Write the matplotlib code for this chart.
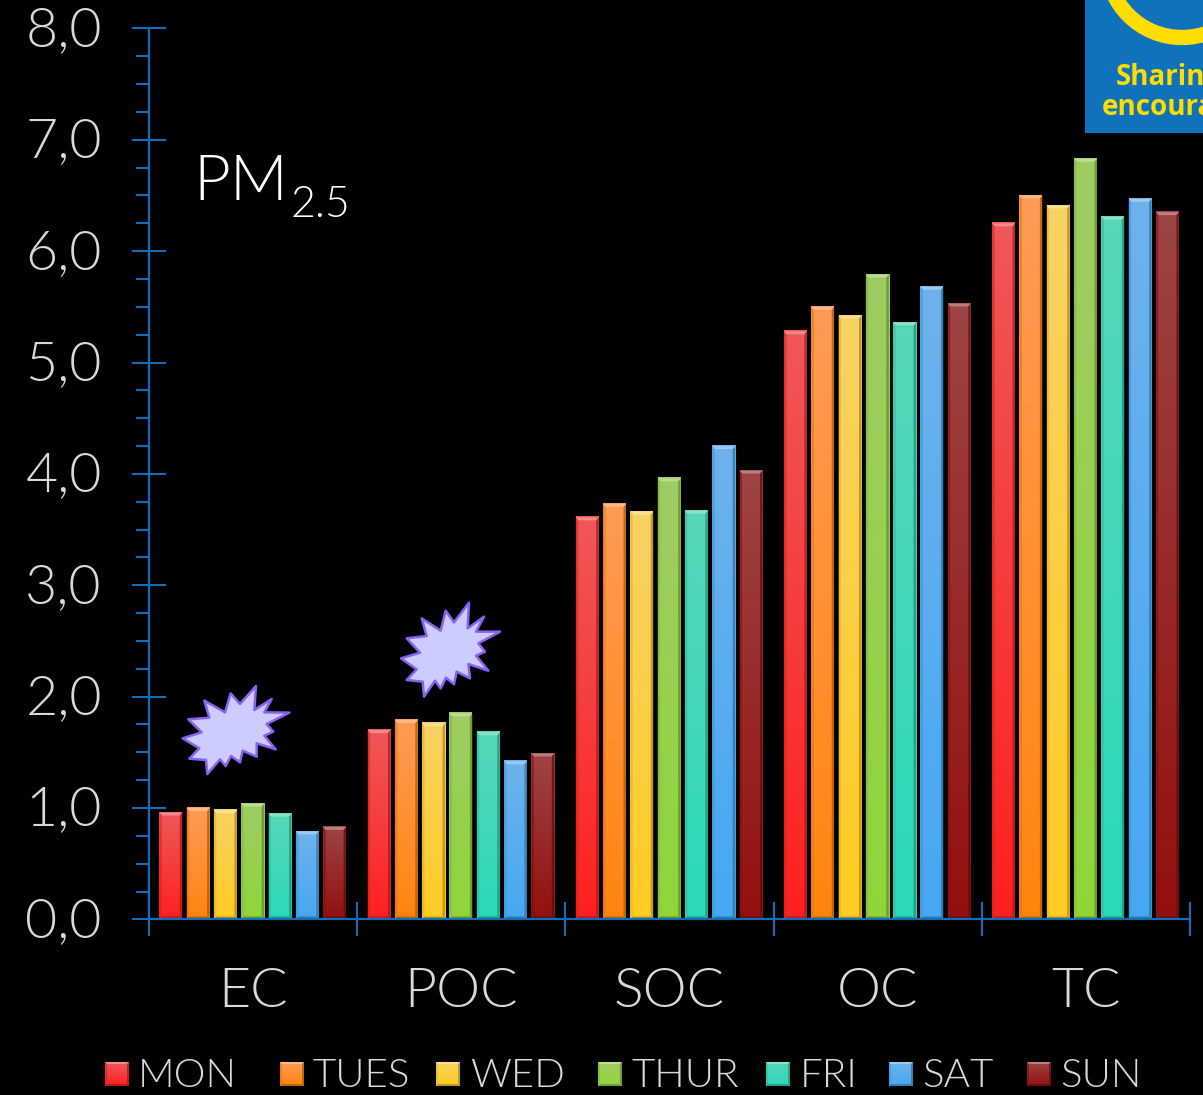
import numpy as np
import matplotlib.pyplot as plt
from matplotlib.colors import to_rgb
from matplotlib.patches import Polygon, Rectangle, Circle
from matplotlib.transforms import ScaledTranslation

categories = ['EC', 'POC', 'SOC', 'OC', 'TC']
days = ['MON', 'TUES', 'WED', 'THUR', 'FRI', 'SAT', 'SUN']
ec = [0.96, 1.00, 0.98, 1.04, 0.95, 0.79, 0.83]
poc = [1.70, 1.79, 1.76, 1.85, 1.68, 1.42, 1.49]
soc = [3.61, 3.73, 3.66, 3.96, 3.67, 4.25, 4.03]
oc = [5.28, 5.50, 5.42, 5.79, 5.36, 5.68, 5.53]
tc = [6.25, 6.50, 6.41, 6.83, 6.31, 6.47, 6.35]
y_labels = ['0,0', '1,0', '2,0', '3,0', '4,0', '5,0', '6,0', '7,0', '8,0']
series = [ec, poc, soc, oc, tc]

top_colors = ['#EE5858', '#FF9A55', '#F8D264', '#9FCC64', '#58D6B8', '#6EB2EC', '#9E4444']
bottom_colors = ['#FF2020', '#FF850F', '#FFCC22', '#8FD63A', '#2ADAB8', '#46A8F2', '#941010']

W, H = 1203, 1095
FONT = 'Lato'
WEIGHT = 300
GREY = '#D9D9D9'
BLUE = '#0F6DBA'


def shade(color, k):
    rgb = np.array(to_rgb(color))
    if k >= 0:
        return tuple(rgb + (1 - rgb) * k)
    return tuple(rgb * (1 + k))


def bevel_bar(ax, left, right, bottom, top, c_top, c_bot, bx, by, z=3):
    # vertical gradient with a thin bevel around the edge
    t = np.linspace(0, 1, 64)[:, None, None]
    grad = (1 - t) * np.array(to_rgb(c_top)) + t * np.array(to_rgb(c_bot))
    ax.imshow(grad, extent=(left, right, bottom, top), origin='upper',
              aspect='auto', zorder=z, interpolation='bilinear')
    sy = 1 if top > bottom else -1
    il, ir = left + bx, right - bx
    ib, it = bottom + sy * by, top - sy * by
    ax.add_patch(Polygon([(left, top), (right, top), (ir, it), (il, it)],
                         fc=shade(c_top, 0.3), ec='none', zorder=z + 0.1))
    ax.add_patch(Polygon([(left, top), (il, it), (il, ib), (left, bottom)],
                         fc=shade(c_bot, -0.12), ec='none', alpha=0.6, zorder=z + 0.1))
    ax.add_patch(Polygon([(right, top), (ir, it), (ir, ib), (right, bottom)],
                         fc=shade(c_bot, -0.35), ec='none', alpha=0.7, zorder=z + 0.1))
    ax.add_patch(Polygon([(left, bottom), (il, ib), (ir, ib), (right, bottom)],
                         fc=shade(c_bot, -0.25), ec='none', zorder=z + 0.1))


fig = plt.figure(figsize=(W / 100, H / 100), dpi=100, facecolor='black')
ax = fig.add_axes([149 / W, 1 - 919.4 / H, (1190 - 149) / W, (919.4 - 28.4) / H], facecolor='black')

x0 = 10.3 / 208.2
step = 27.3 / 208.2
bar_w = 23 / 208.2
bx = 2.5 / 208.2
by = 3 / 111.4
for g, values in enumerate(series):
    for d, v in enumerate(values):
        l = g + x0 + d * step
        bevel_bar(ax, l, l + bar_w, 0, v, top_colors[d], bottom_colors[d], bx, by)

ax.set_xlim(0, 5)
ax.set_ylim(0, 8)
for side in ['top', 'right']:
    ax.spines[side].set_visible(False)
for side in ['left', 'bottom']:
    ax.spines[side].set_color(BLUE)
    ax.spines[side].set_linewidth(1.6)
    ax.spines[side].set_zorder(6)

ax.set_yticks(range(9))
ax.set_yticklabels(y_labels, fontsize=40, color=GREY, family=FONT, fontweight=WEIGHT)
ax.set_yticks(np.arange(0, 8.01, 0.25), minor=True)
ax.tick_params(axis='y', which='major', direction='inout', length=24, width=1.5,
               color=BLUE, pad=22, zorder=6)
ax.tick_params(axis='y', which='minor', direction='out', length=9.5, width=1.5,
               color=BLUE, zorder=6)
# nudge the value labels up, the comma drags their box down
for lab in ax.get_yticklabels():
    lab.set_transform(lab.get_transform() + ScaledTranslation(0, 2.5 / 100, fig.dpi_scale_trans))
ax.set_xticks(range(6))
ax.set_xticklabels([])
ax.tick_params(axis='x', which='major', direction='inout', length=25, width=1.5, color=BLUE, zorder=6)
ax.set_xticks(np.arange(len(categories)) + 0.5, minor=True)
ax.set_xticklabels(categories, minor=True, fontsize=40, color=GREY, family=FONT, fontweight=WEIGHT)
ax.tick_params(axis='x', which='minor', length=0, pad=34)

# overlay in pixel units for the annotation shapes and the key
over = fig.add_axes([0, 0, 1, 1], facecolor='none')
over.set_axis_off()

# logo block cut by the figure edge
over.add_patch(Rectangle((1085, 0), 118, 133, fc='#1072BA', ec='none'))
over.add_patch(Circle((1182, -38), 75.5, fc='none', ec='#FFDD00', lw=11))
for s, sx, sy in [('Sharing', 1116, 78), ('encouraging', 1102, 108)]:
    over.text(sx, sy, s, color='#FFDD00', fontsize=20, fontweight='bold', family='Open Sans',
              ha='left', va='center')

star_a = [(378, 18), (373, 90), (425, 57), (403, 97), (478, 98), (410, 132), (430, 155),
          (403, 167), (437, 208), (380, 190), (380, 230), (338, 212), (330, 247), (303, 228),
          (287, 258), (270, 238), (232, 282), (228, 240), (178, 236), (208, 205), (158, 175),
          (215, 157), (175, 118), (238, 113), (223, 62), (285, 97), (302, 40), (330, 72)]
star_b = [(237, 38), (233, 115), (282, 80), (258, 125), (330, 125), (265, 160), (285, 185),
          (258, 197), (295, 242), (235, 222), (240, 265), (200, 245), (192, 283), (168, 263),
          (152, 295), (135, 272), (102, 320), (98, 275), (50, 270), (80, 238), (33, 205),
          (90, 188), (50, 145), (110, 138), (95, 85), (152, 122), (167, 62), (192, 97)]
for pts, ox, oy in [(star_a, 130, 680), (star_b, 390, 590)]:
    xy = [(ox + px / 3, oy + py / 3) for px, py in pts]
    over.add_patch(Polygon(xy, fc='#CCCCFF', ec='#8A62F2', lw=1.8, joinstyle='round', zorder=5))

over.text(193, 200, 'PM', color='white', fontsize=46, family=FONT, fontweight=WEIGHT, ha='left', va='baseline')
over.text(291, 217, '2.5', color='white', fontsize=31, family=FONT, fontweight=WEIGHT, ha='left', va='baseline')

# key along the bottom edge
swatch_x = [105, 280, 436, 598, 766, 889, 1027]
label_x = [138, 312, 470, 631, 800, 922, 1060]
for d, name in enumerate(days):
    bevel_bar(over, swatch_x[d], swatch_x[d] + 24, 1086, 1062, top_colors[d], bottom_colors[d], 2, 2)
    over.text(label_x[d], 1087, name, color=GREY, fontsize=29, family=FONT, fontweight=WEIGHT,
              ha='left', va='baseline')

over.set_xlim(0, W)
over.set_ylim(H, 0)

fig.savefig('out.png', dpi=100, facecolor='black')
